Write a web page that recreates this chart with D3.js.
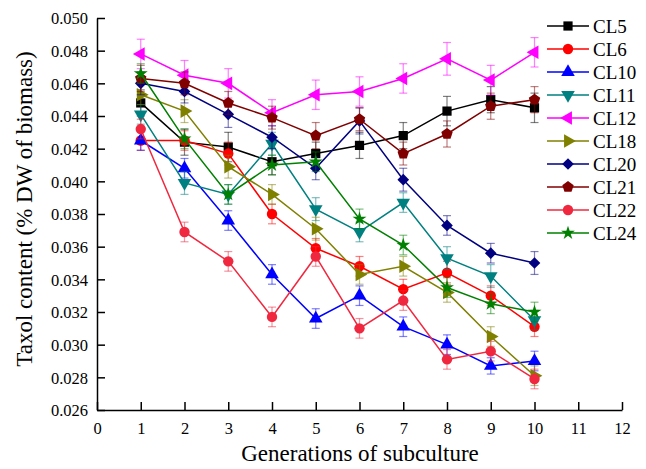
<!DOCTYPE html>
<html>
<head>
<meta charset="utf-8">
<script src="https://cdn.jsdelivr.net/npm/d3@7"></script>
<style>
  body { margin: 0; background: #fff; }
  svg { display: block; }
  text { font-family: "Liberation Serif", "Times New Roman", serif; }
</style>
</head>
<body>
<svg id="chart" width="646" height="469"></svg>
<script>
// generations on x
const generations = [1, 2, 3, 4, 5, 6, 7, 8, 9, 10];
const xTicks = [0, 1, 2, 3, 4, 5, 6, 7, 8, 9, 10, 11, 12];
const yTicks = [0.026, 0.028, 0.030, 0.032, 0.034, 0.036, 0.038, 0.040, 0.042, 0.044, 0.046, 0.048, 0.050];

const lineNames = ["CL5", "CL6", "CL10", "CL11", "CL12", "CL18", "CL20", "CL21", "CL22", "CL24"];

// taxol content
const cl5  = [0.0448, 0.0424, 0.0421, 0.0412, 0.0417, 0.0422, 0.0428, 0.0443, 0.0450, 0.0445];
const cl6  = [0.0425, 0.0425, 0.0417, 0.0380, 0.0359, 0.0348, 0.0334, 0.0344, 0.0330, 0.0311];
const cl10 = [0.0425, 0.0408, 0.0376, 0.0343, 0.0316, 0.0330, 0.0311, 0.0300, 0.0287, 0.0290];
const cl11 = [0.0441, 0.0399, 0.0392, 0.0423, 0.0383, 0.0369, 0.0387, 0.0353, 0.0342, 0.0315];
const cl12 = [0.0478, 0.0465, 0.0460, 0.0442, 0.0453, 0.0455, 0.0463, 0.0475, 0.0462, 0.0479];
const cl18 = [0.0453, 0.0443, 0.0409, 0.0392, 0.0371, 0.0343, 0.0348, 0.0332, 0.0305, 0.0281];
const cl20 = [0.0460, 0.0455, 0.0441, 0.0427, 0.0408, 0.0437, 0.0401, 0.0373, 0.0356, 0.0350];
const cl21 = [0.0463, 0.0460, 0.0448, 0.0439, 0.0428, 0.0438, 0.0417, 0.0429, 0.0446, 0.0450];
const cl22 = [0.0432, 0.0369, 0.0351, 0.0317, 0.0354, 0.0310, 0.0327, 0.0291, 0.0296, 0.0279];
const cl24 = [0.0466, 0.0426, 0.0392, 0.0410, 0.0412, 0.0377, 0.0361, 0.0335, 0.0325, 0.0320];

// standard deviations (error bars)
const err5  = [0.0008, 0.0008, 0.0009, 0.0008, 0.0007, 0.0008, 0.0008, 0.0009, 0.0008, 0.0009];
const err6  = [0.0006, 0.0006, 0.0007, 0.0006, 0.0006, 0.0006, 0.0006, 0.0007, 0.0006, 0.0006];
const err10 = [0.0006, 0.0006, 0.0006, 0.0006, 0.0006, 0.0006, 0.0006, 0.0006, 0.0005, 0.0006];
const err11 = [0.0006, 0.0007, 0.0006, 0.0007, 0.0007, 0.0006, 0.0006, 0.0007, 0.0007, 0.0006];
const err12 = [0.0009, 0.0009, 0.0009, 0.0008, 0.0009, 0.0009, 0.0009, 0.0010, 0.0009, 0.0009];
const err18 = [0.0006, 0.0007, 0.0007, 0.0006, 0.0007, 0.0006, 0.0006, 0.0006, 0.0006, 0.0006];
const err20 = [0.0007, 0.0007, 0.0008, 0.0007, 0.0007, 0.0008, 0.0007, 0.0006, 0.0006, 0.0007];
const err21 = [0.0008, 0.0007, 0.0007, 0.0007, 0.0008, 0.0007, 0.0007, 0.0008, 0.0008, 0.0008];
const err22 = [0.0006, 0.0006, 0.0006, 0.0006, 0.0006, 0.0006, 0.0006, 0.0006, 0.0006, 0.0006];
const err24 = [0.0006, 0.0006, 0.0006, 0.0006, 0.0006, 0.0006, 0.0006, 0.0006, 0.0006, 0.0006];

const colors = ["#000000", "#ff0000", "#0000ff", "#008080", "#ff00ff", "#808000", "#000080", "#800000", "#f0283f", "#008000"];

const values = [cl5, cl6, cl10, cl11, cl12, cl18, cl20, cl21, cl22, cl24];
const errors = [err5, err6, err10, err11, err12, err18, err20, err21, err22, err24];

let svg = d3.select("#chart");

let x = d3.scaleLinear().domain([0, 12]).range([97, 622]);
let y = d3.scaleLinear().domain([0.026, 0.050]).range([410, 18]);

const serif = "Liberation Serif";

// pentagon path for CL21
function pentagon(r) {
  let pts = d3.range(5).map(i => {
    let a = -Math.PI / 2 + i * 2 * Math.PI / 5;
    return [r * Math.cos(a), r * Math.sin(a)];
  });
  return "M" + pts.join("L") + "Z";
}

// marker shape per series: [path, rotation]
const markers = [
  [d3.symbol(d3.symbolSquare, 85)(), 0],
  [d3.symbol(d3.symbolCircle, 85)(), 0],
  [d3.symbol(d3.symbolTriangle, 80)(), 0],
  [d3.symbol(d3.symbolTriangle, 80)(), 180],
  [d3.symbol(d3.symbolTriangle, 80)(), -90],
  [d3.symbol(d3.symbolTriangle, 80)(), 90],
  [d3.symbol(d3.symbolSquare, 68)(), 45],
  [pentagon(6), 0],
  [d3.symbol(d3.symbolCircle, 85)(), 0],
  [d3.symbol(d3.symbolStar, 60)(), 0]
];

// axes
let xAxis = d3.axisBottom(x).tickValues(xTicks).tickFormat(d3.format("d")).tickSizeInner(-8).tickSizeOuter(0).tickPadding(12);
let yAxis = d3.axisLeft(y).tickValues(yTicks).tickFormat(d3.format(".3f")).tickSizeInner(-8).tickSizeOuter(0).tickPadding(9);

let gx = svg.append("g").attr("transform", "translate(0,410)").call(xAxis);
let gy = svg.append("g").attr("transform", "translate(97,0)").call(yAxis);
[gx, gy].forEach(g => {
  g.attr("font-family", serif);
  g.selectAll("text").attr("font-size", 16.5).attr("fill", "#000").attr("font-family", serif);
  g.selectAll("line").attr("stroke", "#000").attr("stroke-width", 1.5);
  g.select(".domain").attr("stroke", "#000").attr("stroke-width", 1.5);
});
gy.selectAll("text").attr("dy", "0.35em");

svg.append("text")
  .attr("x", 360).attr("y", 461)
  .attr("text-anchor", "middle")
  .attr("font-family", serif)
  .attr("font-size", 23)
  .text("Generations of subculture");

svg.append("text")
  .attr("transform", "translate(32,209) rotate(-90)")
  .attr("text-anchor", "middle")
  .attr("font-family", serif)
  .attr("font-size", 23)
  .text("Taxol content (% DW of biomass)");

let line = d3.line().x((d, i) => x(generations[i])).y(d => y(d));

// series
values.forEach((vals, s) => {
  let g = svg.append("g");
  let c = colors[s];

  // error bars
  let eb = g.selectAll(".eb").data(vals).enter().append("g")
    .attr("stroke", c).attr("stroke-opacity", 0.5).attr("stroke-width", 1.2);
  eb.append("line")
    .attr("x1", (d, i) => x(generations[i])).attr("x2", (d, i) => x(generations[i]))
    .attr("y1", (d, i) => y(d - errors[s][i])).attr("y2", (d, i) => y(d + errors[s][i]));
  eb.append("line")
    .attr("x1", (d, i) => x(generations[i]) - 4).attr("x2", (d, i) => x(generations[i]) + 4)
    .attr("y1", (d, i) => y(d + errors[s][i])).attr("y2", (d, i) => y(d + errors[s][i]));
  eb.append("line")
    .attr("x1", (d, i) => x(generations[i]) - 4).attr("x2", (d, i) => x(generations[i]) + 4)
    .attr("y1", (d, i) => y(d - errors[s][i])).attr("y2", (d, i) => y(d - errors[s][i]));

  g.append("path")
    .attr("d", line(vals))
    .attr("fill", "none")
    .attr("stroke", c)
    .attr("stroke-width", 1.5);

  g.selectAll(".mk").data(vals).enter().append("path")
    .attr("d", markers[s][0])
    .attr("transform", (d, i) => `translate(${x(generations[i])},${y(d)}) rotate(${markers[s][1]})`)
    .attr("fill", c);
});

// legend
let legend = svg.append("g");
lineNames.forEach((name, s) => {
  let ly = 26 + s * 23;
  legend.append("line")
    .attr("x1", 547).attr("x2", 589).attr("y1", ly).attr("y2", ly)
    .attr("stroke", colors[s]).attr("stroke-width", 1.5);
  legend.append("path")
    .attr("d", markers[s][0])
    .attr("transform", `translate(568,${ly}) rotate(${markers[s][1]})`)
    .attr("fill", colors[s]);
  legend.append("text")
    .attr("x", 593).attr("y", ly).attr("dy", "0.35em")
    .attr("font-family", serif)
    .attr("font-size", 19)
    .text(name);
});
</script>
</body>
</html>
